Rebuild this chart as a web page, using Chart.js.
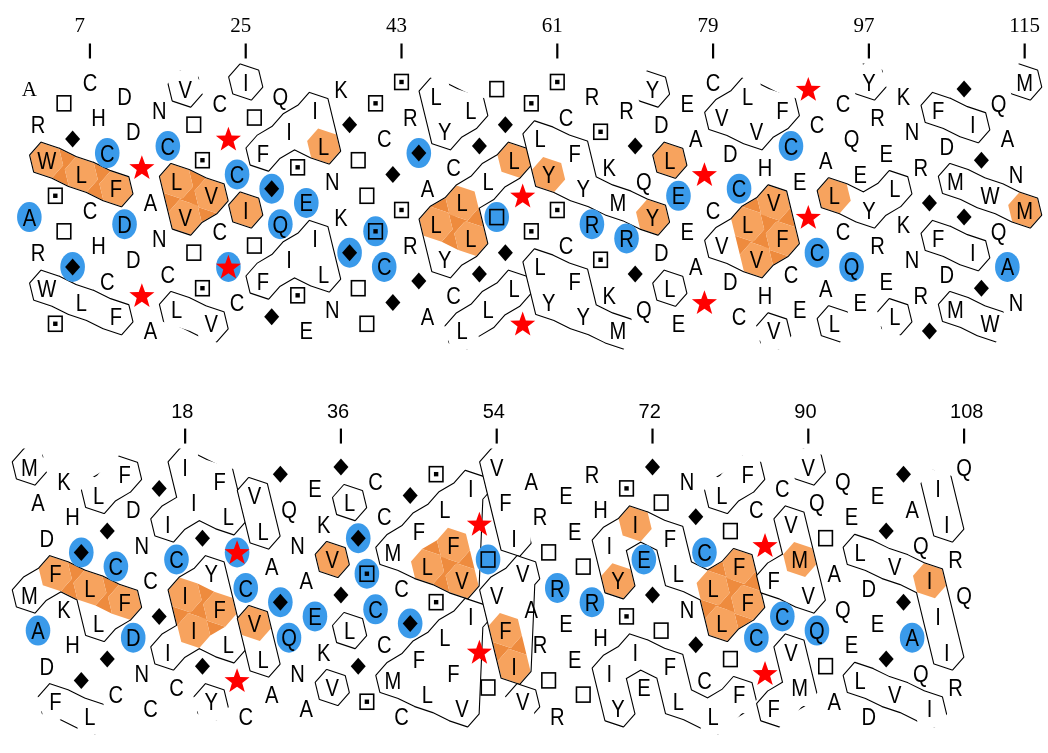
<!DOCTYPE html>
<html>
<head>
<meta charset="utf-8">
<script src="https://cdn.jsdelivr.net/npm/chart.js@4/dist/chart.umd.min.js"></script>
<style>
  html, body { margin: 0; padding: 0; background: #fff; }
  #wrap { width: 1048px; height: 753px; }
</style>
</head>
<body>
<div id="wrap"><canvas id="hca" width="1048" height="753"></canvas></div>
<script>
// ------------------------------------------------------
// @Data : the two sequences, one letter per residue
// ------------------------------------------------------
const topSeq = 'ARWSTGLCHC' + 'FDDPANCLVT' + 'SVCPCITFGQ' + 'ISEILNKGTT' + 'SCGSRGALYC' +
               'LLGLTGLPSL' + 'YSCFYRSKMR' + 'GQYDLEEAPC' + 'VDCLVHVFCE' + 'PCALCQEYRE' +
               'LKNRGFDMGI' + 'GWQANM';
const bottomSeq = 'MADFKHGLLG' + 'CFDNCGICII' + 'GYFLPCVLAG' + 'QNAEKVGLGS' + 'CCMCGFLSLF' +
                  'VIPTVFIVAR' + 'TREETRHIYS' + 'IEGTFLNGCL' + 'LTFFCPFCVM' + 'VQTAQELDEG' +
                  'VGAQIIIRQ';

// tick labels (residue numbers)
const topTicks = [7, 25, 43, 61, 79, 97, 115];
const bottomTicks = [18, 36, 54, 72, 90, 108];

// marked positions : [residue, copy]   copy 0 = upper copy of the net, 1 = lower copy
const topBlue = [[0,1],[5,1],[9,0],[11,1],[16,0],[23,1],[24,0],[28,0],[29,1],[32,0],[37,1],[40,1],
                 [41,1],[45,0],[54,1],[65,1],[69,1],[75,0],[82,0],[88,0],[91,1],[95,1],[113,1]];
const topOrange = [[2,0],[6,0],[10,0],[17,0],[18,1],[21,0],[25,1],[34,0],[47,1],[50,0],[51,1],
                   [56,0],[60,0],[72,1],[74,0],[83,1],[84,1],[86,0],[87,1],[93,0],[115,1]];
const bottomBlue = [[1,1],[6,0],[10,0],[12,1],[17,0],[24,0],[25,0],[29,1],[30,1],[33,1],[38,0],[39,0],
                    [40,1],[44,1],[53,0],[61,0],[65,1],[71,0],[78,0],[84,1],[87,1],[91,1],[102,1]];
const bottomOrange = [[3,0],[7,0],[11,1],[18,1],[19,1],[22,1],[26,1],[35,0],[46,0],[49,0],[50,0],
                      [55,1],[56,1],[68,0],[70,0],[79,0],[80,1],[82,0],[83,1],[89,0],[104,0]];
const topSerif = [[0,0]];

// hydrophobic clusters (residues)
const topClusters = [[2,6,10],[17,18,21],[25],[27,30,33,34],[47,48,50,51,53,56],
                     [59,60,63,64,68,72],[74],[80,83,84,86,87],[93,97,100],[105,109],[107,111,115]];
const bottomClusters = [[0,3,7,8,11],[16,18,19,21,22,23],[26,27],[35],[37],[42,45,46,48,49,50,51],
                        [54,55,56,57],[67,68,70,74,75,79,80,82,83],[86,88,89,90],[96,100,104,105,106]];

// ------------------------------------------------------
// @Drawing helpers
// ------------------------------------------------------
const PANEL_SHIFT = 1083;              // degrees between the two nets on the y scale
const STEP = {1: 100, 3: -60, 4: 40};  // helical net: i+1, i+3, i+4 contacts
const HEX = [[-5.5,-17.5],[12.5,-11.5],[16.5,5],[5.5,17.5],[-12.5,11.5],[-16.5,-5]];
const FACE = {'1':[2,3,4], '-1':[5,0,1], '3':[0,1,2], '-3':[3,4,5], '4':[1,2,3], '-4':[4,5,0]};
const BLUE = 'rgb(58,154,234)';
const ORANGE = '#F7A35E';
const ORANGE_DARK = '#EE8B3E';
const SANS = '"Liberation Sans", Arial, sans-serif';
const SERIF = '"Liberation Serif", "Times New Roman", serif';

function keySet(list) { return new Set(list.map(p => p[0] + ':' + p[1])); }

const panels = [
  { seq: topSeq, ticks: topTicks, blue: keySet(topBlue), orange: keySet(topOrange),
    serif: keySet(topSerif), clusters: topClusters, shift: 0, tickFont: SERIF, tickSize: 21, tickDx: -15.5 },
  { seq: bottomSeq, ticks: bottomTicks, blue: keySet(bottomBlue), orange: keySet(bottomOrange),
    serif: keySet([]), clusters: bottomClusters, shift: PANEL_SHIFT, tickFont: SANS, tickSize: 20, tickDx: -14 }
];

function baseAngle(p, n) { return (((n - p.ticks[0]) * 100) % 360 + 360) % 360; }

function area(pts) {
  let s = 0;
  for (let i = 0; i < pts.length; i++) {
    const a = pts[i], b = pts[(i + 1) % pts.length];
    s += a[0] * b[1] - b[0] * a[1];
  }
  return s;
}
function addPoly(path, pts) {
  if (area(pts) < 0) pts = pts.slice().reverse();
  path.moveTo(pts[0][0], pts[0][1]);
  for (let i = 1; i < pts.length; i++) path.lineTo(pts[i][0], pts[i][1]);
  path.closePath();
}
function hexPts(c) { return HEX.map(h => [c.x + h[0], c.y + h[1]]); }
function bridgePts(a, b, d) {
  return FACE[d].map(i => [a.x + HEX[i][0], a.y + HEX[i][1]])
    .concat(FACE[-d].map(i => [b.x + HEX[i][0], b.y + HEX[i][1]]));
}

// every copy of a cluster that shows on the two stacked nets
function clusterCopies(p, members) {
  const ang = {};
  ang[members[0]] = baseAngle(p, members[0]);
  let changed = true;
  while (changed) {
    changed = false;
    members.forEach(n => {
      if (ang[n] !== undefined) return;
      const m = members.find(m => ang[m] !== undefined && STEP[Math.abs(n - m)] !== undefined);
      if (m !== undefined) { ang[n] = ang[m] + Math.sign(n - m) * STEP[Math.abs(n - m)]; changed = true; }
    });
  }
  const pairs = [];
  members.forEach(a => members.forEach(b => { if (b > a && STEP[b - a] !== undefined) pairs.push([a, b]); }));
  const out = [];
  for (let k = -3; k <= 3; k++) {
    const s = {};
    let any = false;
    members.forEach(n => { s[n] = ang[n] + 360 * k; if (s[n] >= 0 && s[n] < 720) any = true; });
    if (any) out.push({ s, pairs, shown: n => s[n] >= 0 && s[n] < 720 });
  }
  return out;
}

const hcaPlugin = {
  id: 'hca',
  afterDatasetsDraw(chart) {
    const ctx = chart.ctx;
    const xs = chart.scales.x, ys = chart.scales.y;
    const pos = (p, n, a) => ({ x: xs.getPixelForValue(n), y: ys.getPixelForValue(p.shift + a) });

    const layer = document.createElement('canvas');
    layer.width = chart.width; layer.height = chart.height;
    const lc = layer.getContext('2d');
    lc.lineJoin = 'round';

    panels.forEach(p => {
      p.clusters.forEach(members => {
        clusterCopies(p, members).forEach(cp => {
          const P = {};
          members.forEach(n => { P[n] = pos(p, n, cp.s[n]); });
          const isOrange = n => cp.shown(n) && p.orange.has(n + ':' + Math.round((cp.s[n] - baseAngle(p, n)) / 360));

          // orange fill: bridges darker, cells lighter
          const dark = new Path2D(), light = new Path2D();
          cp.pairs.forEach(([a, b]) => { if (isOrange(a) && isOrange(b)) addPoly(dark, bridgePts(P[a], P[b], b - a)); });
          members.forEach(n => { if (isOrange(n)) addPoly(light, hexPts(P[n])); });
          ctx.fillStyle = ORANGE_DARK; ctx.fill(dark);
          ctx.fillStyle = ORANGE; ctx.fill(light);

          // contour: stroke the pieces, then clear the inside of their union
          const shape = new Path2D(), inside = new Path2D();
          members.forEach(n => { if (cp.shown(n)) { addPoly(shape, hexPts(P[n])); addPoly(inside, hexPts(P[n])); } });
          cp.pairs.forEach(([a, b]) => {
            const sa = cp.shown(a), sb = cp.shown(b);
            if (sa && sb) { addPoly(shape, bridgePts(P[a], P[b], b - a)); }
            if (sa || sb) { addPoly(inside, bridgePts(P[a], P[b], b - a)); }
          });
          lc.globalCompositeOperation = 'source-over';
          lc.strokeStyle = '#000'; lc.lineWidth = 2.2;
          lc.stroke(shape);
          lc.globalCompositeOperation = 'destination-out';
          lc.fillStyle = '#000';
          lc.fill(inside, 'nonzero');
        });
      });
    });
    ctx.drawImage(layer, 0, 0);

    // residues
    panels.forEach(p => {
      for (let n = 0; n < p.seq.length; n++) {
        for (let c = 0; c < 2; c++) {
          const q = pos(p, n, baseAngle(p, n) + 360 * c);
          const key = n + ':' + c;
          if (p.blue.has(key)) {
            ctx.fillStyle = BLUE;
            ctx.beginPath(); ctx.ellipse(q.x, q.y, 12.3, 15, 0, 0, Math.PI * 2); ctx.fill();
          }
          drawResidue(ctx, p.seq[n], q.x, q.y, p.serif.has(key));
        }
      }
      // ticks
      p.ticks.forEach(t => {
        const q = pos(p, t, 0);
        ctx.strokeStyle = '#000'; ctx.lineWidth = 2.2;
        ctx.beginPath(); ctx.moveTo(q.x, q.y - 38.5); ctx.lineTo(q.x, q.y - 23.5); ctx.stroke();
        ctx.fillStyle = '#000';
        ctx.font = p.tickSize + 'px ' + p.tickFont;
        ctx.textAlign = 'left'; ctx.textBaseline = 'alphabetic';
        ctx.fillText(String(t), q.x + p.tickDx, q.y - 49.5);
      });
    });
  }
};

function drawResidue(ctx, r, x, y, serif) {
  ctx.save();
  ctx.translate(x, y);
  if (r === 'P') {
    ctx.fillStyle = '#FF0000';
    ctx.beginPath();
    for (let i = 0; i < 10; i++) {
      const rad = i % 2 === 0 ? 13.2 : 5.4;
      const a = -Math.PI / 2 + i * Math.PI / 5;
      ctx.lineTo(rad * Math.cos(a), rad * Math.sin(a) + 1);
    }
    ctx.closePath(); ctx.fill();
  } else if (r === 'G') {
    ctx.fillStyle = '#000';
    ctx.beginPath(); ctx.moveTo(0, -8.5); ctx.lineTo(7.5, 0); ctx.lineTo(0, 8.5); ctx.lineTo(-7.5, 0);
    ctx.closePath(); ctx.fill();
  } else if (r === 'T' || r === 'S') {
    ctx.strokeStyle = '#000'; ctx.lineWidth = 1.6;
    ctx.strokeRect(-6.8, -7.5, 13.6, 15);
    if (r === 'S') { ctx.fillStyle = '#000'; ctx.fillRect(-2.2, -2.2, 4.4, 4.4); }
  } else if (serif) {
    ctx.fillStyle = '#000';
    ctx.font = '21px ' + SERIF;
    ctx.textAlign = 'center'; ctx.textBaseline = 'alphabetic';
    ctx.fillText(r, 0, 7);
  } else {
    ctx.fillStyle = '#000';
    ctx.font = '24px ' + SANS;
    ctx.textAlign = 'center'; ctx.textBaseline = 'alphabetic';
    ctx.scale(0.84, 1);
    ctx.fillText(r, 0, 8.6);
  }
  ctx.restore();
}

// points for the two nets (drawn by the plugin above)
function residuePoints(p) {
  const pts = [];
  for (let n = 0; n < p.seq.length; n++) {
    for (let c = 0; c < 2; c++) pts.push({ x: n, y: p.shift + baseAngle(p, n) + 360 * c });
  }
  return pts;
}

new Chart(document.getElementById('hca'), {
  type: 'scatter',
  data: {
    datasets: panels.map((p, i) => ({
      label: i === 0 ? 'top' : 'bottom',
      data: residuePoints(p),
      pointRadius: 0,
      pointHoverRadius: 0
    }))
  },
  options: {
    responsive: false,
    animation: false,
    devicePixelRatio: 1,
    layout: { padding: 0 },
    events: [],
    plugins: { legend: { display: false }, tooltip: { enabled: false } },
    scales: {
      x: { type: 'linear', display: false, min: -3.391, max: 117.696 },
      y: { type: 'linear', display: false, reverse: true, min: -230.6, max: 1887.2 }
    }
  },
  plugins: [hcaPlugin]
});
</script>
</body>
</html>
